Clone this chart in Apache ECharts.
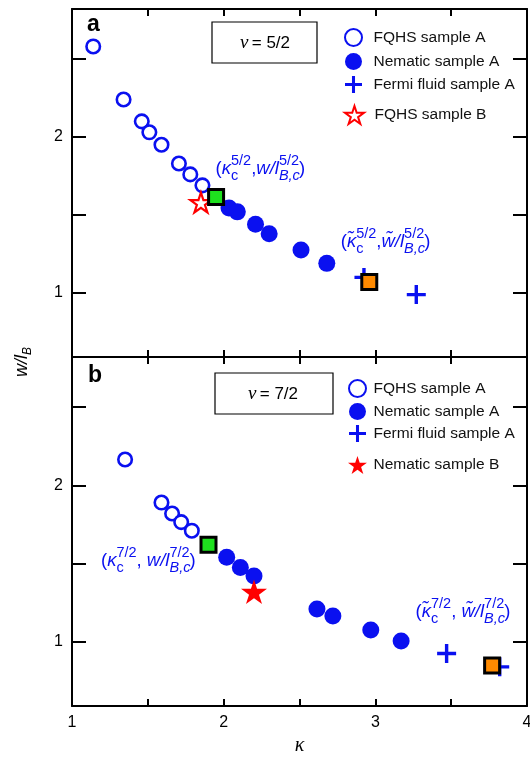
<!DOCTYPE html>
<html>
<head>
<meta charset="utf-8">
<script src="https://cdn.jsdelivr.net/npm/echarts@6/dist/echarts.min.js"></script>
<style>html,body{margin:0;padding:0;background:#fff;}#c{width:530px;height:758px;}</style>
</head>
<body>
<div id="c"></div>
<script>
// ---------- Data ----------
// Panel a: nu = 5/2
const fqhsA_a_k = [1.14, 1.34, 1.46, 1.51, 1.59, 1.705, 1.78, 1.86];
const fqhsA_a_w = [2.58, 2.24, 2.10, 2.03, 1.95, 1.83, 1.76, 1.69];
const nemA_a_k = [2.035, 2.09, 2.21, 2.30, 2.51, 2.68];
const nemA_a_w = [1.545, 1.52, 1.44, 1.38, 1.275, 1.19];
const fermiA_a_k = [2.925, 3.27];
const fermiA_a_w = [1.10, 0.99];
const fqhsB_a_k = [1.85];
const fqhsB_a_w = [1.58];
const crit_a = [1.95, 1.615];
const critT_a = [2.96, 1.07];
// Panel b: nu = 7/2
const fqhsA_b_k = [1.35, 1.59, 1.66, 1.72, 1.79];
const fqhsA_b_w = [2.165, 1.89, 1.82, 1.765, 1.71];
const nemA_b_k = [2.02, 2.11, 2.20, 2.615, 2.72, 2.97, 3.17];
const nemA_b_w = [1.54, 1.475, 1.42, 1.21, 1.165, 1.075, 1.005];
const fermiA_b_k = [3.47, 3.82];
const fermiA_b_w = [0.925, 0.84];
const nemB_b_k = [2.2];
const nemB_b_w = [1.32];
const crit_b = [1.90, 1.62];
const critT_b = [3.77, 0.848];
// Axes
const xMin = 1, xMax = 4;
const yMin = 0.59, yMax = 2.82;
const xTickVals = [1.5, 2, 2.5, 3, 3.5];
const xLabelVals = [1, 2, 3, 4];
const yTickVals = [1, 1.5, 2, 2.5];
const yLabelVals = [1, 2];

// ---------- Styles ----------
const BLUE = '#0a10f0';
const RED = '#ff0000';
const GREEN = '#1ee01e';
const ORANGE = '#ff8a00';
const SANS = 'Liberation Sans, Arial, Helvetica, sans-serif';
const SERIF = 'Liberation Serif, Times New Roman, serif';
const PLUS = 'path://M7.8,0H11.2V7.8H19V11.2H11.2V19H7.8V11.2H0V7.8H7.8Z';
const STAR = 'path://M50,0L61.2,34.5L97.6,34.5L68.2,55.9L79.4,90.5L50,69.1L20.6,90.5L31.8,55.9L2.4,34.5L38.8,34.5Z';

const zip = (a, b) => a.map((v, i) => [v, b[i]]);

function xAxisDef(gi, pos, labels) {
  return {
    type: 'value', gridIndex: gi, position: pos, min: xMin, max: xMax,
    splitLine: { show: false },
    axisLine: { show: true, onZero: false, lineStyle: { color: '#000', width: 2 } },
    axisTick: { show: true, inside: true, length: 7, customValues: xTickVals, lineStyle: { color: '#000', width: 2 } },
    axisLabel: labels ? { show: true, customValues: xLabelVals, margin: 9, fontSize: 16, fontFamily: SANS, color: '#000' } : { show: false },
    name: labels ? 'κ' : '', nameLocation: 'middle', nameGap: 30,
    nameTextStyle: { fontFamily: SERIF, fontStyle: 'italic', fontSize: 20, color: '#000' }
  };
}
function yAxisDef(gi, pos, labels) {
  return {
    type: 'value', gridIndex: gi, position: pos, min: yMin, max: yMax,
    splitLine: { show: false },
    axisLine: { show: true, onZero: false, lineStyle: { color: '#000', width: 2 } },
    axisTick: { show: true, inside: true, length: 14, customValues: yTickVals, lineStyle: { color: '#000', width: 2 } },
    axisLabel: labels ? { show: true, customValues: yLabelVals, margin: 9, fontSize: 16, fontFamily: SANS, color: '#000' } : { show: false }
  };
}

const openCircle = { symbol: 'circle', symbolSize: 13.5, itemStyle: { color: '#fff', borderColor: BLUE, borderWidth: 2.6, opacity: 1 } };
const fillCircle = { symbol: 'circle', symbolSize: 17, itemStyle: { color: BLUE, opacity: 1 } };
const plusSym = { symbol: PLUS, symbolSize: 19, symbolKeepAspect: true, itemStyle: { color: BLUE, opacity: 1 } };

const richBase = {
  p: { fontSize: 18.5, fontFamily: SANS, color: BLUE, lineHeight: 30 },
  i: { fontSize: 18.5, fontFamily: SANS, fontStyle: 'italic', color: BLUE, lineHeight: 30 },
  sub: { fontSize: 14.5, fontFamily: SANS, color: BLUE, lineHeight: 14, verticalAlign: 'bottom', width: 0 },
  subi: { fontSize: 14.5, fontFamily: SANS, fontStyle: 'italic', color: BLUE, lineHeight: 14, verticalAlign: 'bottom', width: 0 },
  sup: { fontSize: 14.5, fontFamily: SANS, color: BLUE, lineHeight: 14, verticalAlign: 'top' }
};
function annot(frac, tilde, sep) {
  const k = tilde ? 'κ\u0303' : 'κ';
  const w = tilde ? 'w\u0303' : 'w';
  return '{p|(}{i|' + k + '}{sub|c}{sup|' + frac + '}{p|,' + sep + '}{i|' + w + '/l}{subi|B,c}{sup|' + frac + '}{p|)}';
}
function squareSeries(name, xi, yi, pt, color, text, pos) {
  return {
    name: name, type: 'scatter', xAxisIndex: xi, yAxisIndex: yi, z: 10,
    symbol: 'rect', symbolSize: 15,
    itemStyle: { color: color, borderColor: '#000', borderWidth: 3, opacity: 1 },
    data: [pt],
    label: { show: true, position: pos, align: 'left', verticalAlign: 'middle', formatter: text, rich: richBase },
    emphasis: { disabled: true }
  };
}
const legendText = { fontFamily: SANS, fontSize: 15.5, color: '#111' };

const option = {
  animation: false,
  grid: [
    { left: 72, right: 3, top: 9, height: 348, outerBoundsMode: 'none' },
    { left: 72, right: 3, top: 357, height: 349, outerBoundsMode: 'none' }
  ],
  xAxis: [xAxisDef(0, 'bottom', false), xAxisDef(0, 'top', false), xAxisDef(1, 'bottom', true), xAxisDef(1, 'top', false)],
  yAxis: [yAxisDef(0, 'left', true), yAxisDef(0, 'right', false), yAxisDef(1, 'left', true), yAxisDef(1, 'right', false)],
  legend: [
    { data: ['FQHS sample A', 'Nematic sample A', 'Fermi fluid sample A'], orient: 'vertical', left: 339, top: 23,
      itemWidth: 30, itemHeight: 17, itemGap: 6, selectedMode: false, textStyle: legendText },
    { data: ['FQHS sample B'], orient: 'vertical', left: 339, top: 100,
      itemWidth: 30, itemHeight: 18, selectedMode: false, textStyle: legendText },
    { data: ['FQHS sample A', 'Nematic sample A', 'Fermi fluid sample A'], orient: 'vertical', left: 343, top: 374,
      itemWidth: 22, itemHeight: 17, itemGap: 5, selectedMode: false, textStyle: legendText },
    { data: ['Nematic sample B'], orient: 'vertical', left: 343, top: 451,
      itemWidth: 22, itemHeight: 18, selectedMode: false, textStyle: legendText }
  ],
  series: [
    // panel a
    Object.assign({ name: 'FQHS sample A', type: 'scatter', xAxisIndex: 0, yAxisIndex: 0, z: 3, data: zip(fqhsA_a_k, fqhsA_a_w) }, openCircle),
    Object.assign({ name: 'Nematic sample A', type: 'scatter', xAxisIndex: 0, yAxisIndex: 0, z: 3, data: zip(nemA_a_k, nemA_a_w) }, fillCircle),
    Object.assign({ name: 'Fermi fluid sample A', type: 'scatter', xAxisIndex: 0, yAxisIndex: 0, z: 3, data: zip(fermiA_a_k, fermiA_a_w) }, plusSym),
    { name: 'FQHS sample B', type: 'scatter', xAxisIndex: 0, yAxisIndex: 0, z: 4, data: zip(fqhsB_a_k, fqhsB_a_w),
      symbol: STAR, symbolSize: 21, symbolKeepAspect: true, itemStyle: { color: '#fff', borderColor: RED, borderWidth: 2.2, opacity: 1 } },
    squareSeries('crit a', 0, 0, crit_a, GREEN, annot('5/2', false, ''), [8.5, -19.5]),
    squareSeries('critT a', 0, 0, critT_a, ORANGE, annot('5/2', true, ''), [-19.5, -31.5]),
    // panel b
    Object.assign({ name: 'FQHS sample A', type: 'scatter', xAxisIndex: 2, yAxisIndex: 2, z: 3, data: zip(fqhsA_b_k, fqhsA_b_w) }, openCircle),
    Object.assign({ name: 'Nematic sample A', type: 'scatter', xAxisIndex: 2, yAxisIndex: 2, z: 3, data: zip(nemA_b_k, nemA_b_w) }, fillCircle),
    Object.assign({ name: 'Fermi fluid sample A', type: 'scatter', xAxisIndex: 2, yAxisIndex: 2, z: 3, data: zip(fermiA_b_k, fermiA_b_w) }, plusSym),
    { name: 'Nematic sample B', type: 'scatter', xAxisIndex: 2, yAxisIndex: 2, z: 4, data: zip(nemB_b_k, nemB_b_w),
      symbol: STAR, symbolSize: 26, symbolKeepAspect: true, itemStyle: { color: RED, opacity: 1 } },
    squareSeries('crit b', 2, 2, crit_b, GREEN, annot('7/2', false, ' '), [-98.5, 25]),
    squareSeries('critT b', 2, 2, critT_b, ORANGE, annot('7/2', true, ' '), [-67.5, -45])
  ],
  graphic: [
    { type: 'text', left: 87, top: 13, style: { text: 'a', font: 'bold 23px ' + SANS, fill: '#000' } },
    { type: 'text', left: 88, top: 364, style: { text: 'b', font: 'bold 23px ' + SANS, fill: '#000' } },
    { type: 'rect', shape: { x: 212, y: 22, width: 105, height: 41 }, style: { fill: '#fff', stroke: '#000', lineWidth: 1.2 } },
    { type: 'text', x: 265, y: 43, style: { text: '{n|ν} {t|= 5/2}', align: 'center', verticalAlign: 'middle',
      rich: { n: { fontFamily: SERIF, fontStyle: 'italic', fontSize: 19, fill: '#000' }, t: { fontFamily: SANS, fontSize: 17, fill: '#000' } } } },
    { type: 'rect', shape: { x: 215, y: 373, width: 118, height: 41 }, style: { fill: '#fff', stroke: '#000', lineWidth: 1.2 } },
    { type: 'text', x: 273, y: 394, style: { text: '{n|ν} {t|= 7/2}', align: 'center', verticalAlign: 'middle',
      rich: { n: { fontFamily: SERIF, fontStyle: 'italic', fontSize: 19, fill: '#000' }, t: { fontFamily: SANS, fontSize: 17, fill: '#000' } } } },
    { type: 'text', x: 22, y: 362, rotation: Math.PI / 2, style: { text: '{w|w/l}{b|B}', align: 'center', verticalAlign: 'middle',
      rich: { w: { fontFamily: SANS, fontStyle: 'italic', fontSize: 18, fill: '#000', lineHeight: 24 },
               b: { fontFamily: SANS, fontStyle: 'italic', fontSize: 12, fill: '#000', lineHeight: 12, verticalAlign: 'bottom' } } } }
  ]
};

const chart = echarts.init(document.getElementById('c'), null, { renderer: 'canvas' });
chart.setOption(option);
</script>
</body>
</html>
